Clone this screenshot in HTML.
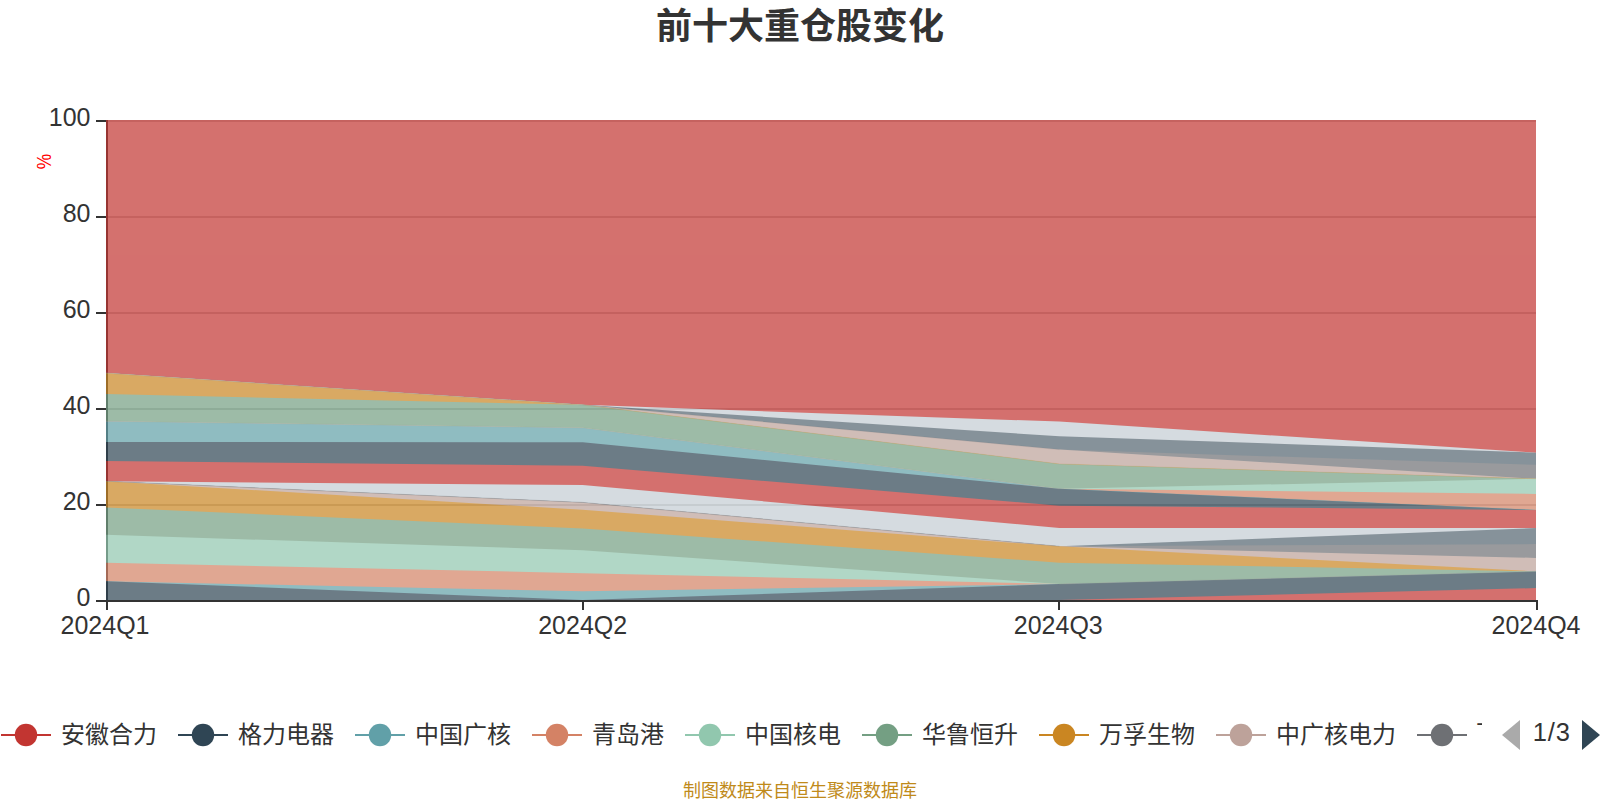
<!DOCTYPE html>
<html lang="zh-CN">
<head>
<meta charset="utf-8">
<title>前十大重仓股变化</title>
<style>
html,body{margin:0;padding:0;background:#fff;}
body{width:1600px;height:800px;overflow:hidden;position:relative;font-family:"Liberation Sans","Noto Sans CJK SC",sans-serif;}
svg{position:absolute;left:0;top:0;display:block;}
svg text{font-family:"Liberation Sans","Noto Sans CJK SC",sans-serif;}
.title{font-size:36px;font-weight:bold;fill:#333;}
.axl text{font-size:25px;fill:#333;}
.leg text{font-size:24px;fill:#333;}
.foot{font-size:18px;fill:#c08a1a;}
</style>
</head>
<body>
<svg width="1600" height="800" viewBox="0 0 1600 800">
<rect width="1600" height="800" fill="#fff"/>
<text class="title" x="800" y="38.5" text-anchor="middle">前十大重仓股变化</text>
<g stroke="#ccc" stroke-width="2"><line x1="107" x2="1536" y1="121" y2="121"/><line x1="107" x2="1536" y1="217" y2="217"/><line x1="107" x2="1536" y1="313" y2="313"/><line x1="107" x2="1536" y1="409" y2="409"/><line x1="107" x2="1536" y1="505" y2="505"/></g>
<g stroke="#333" stroke-width="2">
<line x1="107" x2="107" y1="120" y2="602"/>
<line x1="106" x2="1538" y1="601" y2="601"/>
<line x1="96" x2="107" y1="121" y2="121"/><line x1="96" x2="107" y1="217" y2="217"/><line x1="96" x2="107" y1="313" y2="313"/><line x1="96" x2="107" y1="409" y2="409"/><line x1="96" x2="107" y1="505" y2="505"/><line x1="96" x2="107" y1="601" y2="601"/><line x1="107" x2="107" y1="601" y2="610"/><line x1="583" x2="583" y1="601" y2="610"/><line x1="1059" x2="1059" y1="601" y2="610"/><line x1="1537" x2="1537" y1="601" y2="610"/>
</g>
<g class="axl"><text x="90.5" y="126" text-anchor="end">100</text><text x="90.5" y="222" text-anchor="end">80</text><text x="90.5" y="318" text-anchor="end">60</text><text x="90.5" y="414" text-anchor="end">40</text><text x="90.5" y="510" text-anchor="end">20</text><text x="90.5" y="606" text-anchor="end">0</text><text x="105" y="634" text-anchor="middle">2024Q1</text><text x="582.7" y="634" text-anchor="middle">2024Q2</text><text x="1058.3" y="634" text-anchor="middle">2024Q3</text><text x="1536" y="634" text-anchor="middle">2024Q4</text></g>
<text x="0" y="0" font-size="20" fill="#f00" text-anchor="middle" transform="translate(51.3,161.6) rotate(-90) scale(0.87,1.05)">%</text>
<g opacity="0.7" stroke="none">
<polygon fill="#c23531" points="106,120 582.67,120 1059.33,120 1536,120 1536,600 106,600"/>
<polygon fill="#c4ccd3" points="106,373 582.67,404.85 1059.33,421.6 1536,452.7 1536,600 106,600"/>
<polygon fill="#546570" points="106,373 582.67,404.85 1059.33,436.3 1536,452.7 1536,600 106,600"/>
<polygon fill="#6e7074" points="106,373 582.67,404.85 1059.33,449.6 1536,464.8 1536,600 106,600"/>
<polygon fill="#bda29a" points="106,373 582.67,404.85 1059.33,449.6 1536,478.8 1536,600 106,600"/>
<polygon fill="#ca8622" points="106,373 582.67,404.85 1059.33,463.9 1536,478.8 1536,600 106,600"/>
<polygon fill="#749f83" points="106,394.1 582.67,404.85 1059.33,463.9 1536,478.8 1536,600 106,600"/>
<polygon fill="#91c7ae" points="106,421.2 582.67,427.8 1059.33,488.8 1536,478.8 1536,600 106,600"/>
<polygon fill="#d48265" points="106,421.2 582.67,427.8 1059.33,488.8 1536,493.9 1536,600 106,600"/>
<polygon fill="#61a0a8" points="106,421.2 582.67,427.8 1059.33,488.8 1536,510 1536,600 106,600"/>
<polygon fill="#2f4554" points="106,442 582.67,442.2 1059.33,488.8 1536,510 1536,600 106,600"/>
<polygon fill="#c23531" points="106,461 582.67,465.8 1059.33,505.7 1536,510 1536,600 106,600"/>
<polygon fill="#c4ccd3" points="106,481.2 582.67,485 1059.33,527.9 1536,528.1 1536,600 106,600"/>
<polygon fill="#546570" points="106,481.2 582.67,502.4 1059.33,546.3 1536,528.1 1536,600 106,600"/>
<polygon fill="#6e7074" points="106,481.2 582.67,502.4 1059.33,546.3 1536,544.1 1536,600 106,600"/>
<polygon fill="#bda29a" points="106,481.2 582.67,502.4 1059.33,546.3 1536,557.9 1536,600 106,600"/>
<polygon fill="#ca8622" points="106,481.2 582.67,509.8 1059.33,546.3 1536,571.4 1536,600 106,600"/>
<polygon fill="#749f83" points="106,507.5 582.67,528.5 1059.33,562.7 1536,571.4 1536,600 106,600"/>
<polygon fill="#91c7ae" points="106,534.8 582.67,550.2 1059.33,584 1536,571.4 1536,600 106,600"/>
<polygon fill="#d48265" points="106,562.8 582.67,573.2 1059.33,584 1536,571.4 1536,600 106,600"/>
<polygon fill="#61a0a8" points="106,581.2 582.67,591.3 1059.33,584 1536,571.4 1536,600 106,600"/>
<polygon fill="#2f4554" points="106,581.2 582.67,600 1059.33,584 1536,571.4 1536,600 106,600"/>
<polygon fill="#c23531" points="106,600 582.67,600 1059.33,600 1536,588.1 1536,600 106,600"/>
</g>
<g stroke-width="0.7" opacity="0.2" fill="none"><line x1="1059.33" y1="584" x2="1536" y2="571.4" stroke="#61a0a8"/><line x1="1059.33" y1="584" x2="1536" y2="571.4" stroke="#d48265"/><line x1="1059.33" y1="584" x2="1536" y2="571.4" stroke="#91c7ae"/><line x1="106" y1="481.2" x2="582.67" y2="502.4" stroke="#6e7074"/><line x1="582.67" y1="502.4" x2="1059.33" y2="546.3" stroke="#6e7074"/><line x1="106" y1="481.2" x2="582.67" y2="502.4" stroke="#546570"/><line x1="582.67" y1="502.4" x2="1059.33" y2="546.3" stroke="#546570"/><line x1="1059.33" y1="488.8" x2="1536" y2="510" stroke="#61a0a8"/><line x1="106" y1="421.2" x2="582.67" y2="427.8" stroke="#d48265"/><line x1="582.67" y1="427.8" x2="1059.33" y2="488.8" stroke="#d48265"/><line x1="106" y1="421.2" x2="582.67" y2="427.8" stroke="#91c7ae"/><line x1="582.67" y1="427.8" x2="1059.33" y2="488.8" stroke="#91c7ae"/><line x1="582.67" y1="404.85" x2="1059.33" y2="463.9" stroke="#ca8622"/><line x1="1059.33" y1="463.9" x2="1536" y2="478.8" stroke="#ca8622"/><line x1="106" y1="373" x2="582.67" y2="404.85" stroke="#bda29a"/><line x1="106" y1="373" x2="582.67" y2="404.85" stroke="#6e7074"/><line x1="582.67" y1="404.85" x2="1059.33" y2="449.6" stroke="#6e7074"/><line x1="106" y1="373" x2="582.67" y2="404.85" stroke="#546570"/><line x1="106" y1="373" x2="582.67" y2="404.85" stroke="#c4ccd3"/></g>
<defs><clipPath id="lc"><rect x="0" y="700" width="1482" height="70"/></clipPath></defs>
<g class="leg" clip-path="url(#lc)"><g><line x1="1" x2="51" y1="735" y2="735" stroke="#c23531" stroke-width="2"/><circle cx="26" cy="735" r="11.2" fill="#c23531"/><text x="60.9" y="743">安徽合力</text></g><g><line x1="178" x2="228" y1="735" y2="735" stroke="#2f4554" stroke-width="2"/><circle cx="203" cy="735" r="11.2" fill="#2f4554"/><text x="237.9" y="743">格力电器</text></g><g><line x1="355" x2="405" y1="735" y2="735" stroke="#61a0a8" stroke-width="2"/><circle cx="380" cy="735" r="11.2" fill="#61a0a8"/><text x="414.9" y="743">中国广核</text></g><g><line x1="532" x2="582" y1="735" y2="735" stroke="#d48265" stroke-width="2"/><circle cx="557" cy="735" r="11.2" fill="#d48265"/><text x="591.9" y="743">青岛港</text></g><g><line x1="685" x2="735" y1="735" y2="735" stroke="#91c7ae" stroke-width="2"/><circle cx="710" cy="735" r="11.2" fill="#91c7ae"/><text x="744.9" y="743">中国核电</text></g><g><line x1="862" x2="912" y1="735" y2="735" stroke="#749f83" stroke-width="2"/><circle cx="887" cy="735" r="11.2" fill="#749f83"/><text x="921.9" y="743">华鲁恒升</text></g><g><line x1="1039" x2="1089" y1="735" y2="735" stroke="#ca8622" stroke-width="2"/><circle cx="1064" cy="735" r="11.2" fill="#ca8622"/><text x="1098.9" y="743">万孚生物</text></g><g><line x1="1216" x2="1266" y1="735" y2="735" stroke="#bda29a" stroke-width="2"/><circle cx="1241" cy="735" r="11.2" fill="#bda29a"/><text x="1275.9" y="743">中广核电力</text></g><g><line x1="1417" x2="1467" y1="735" y2="735" stroke="#6e7074" stroke-width="2"/><circle cx="1442" cy="735" r="11.2" fill="#6e7074"/><text x="1476.1" y="742">下</text></g></g>
<polygon points="1502,735 1520,720 1520,750" fill="#aaa"/>
<polygon points="1600,735 1582,720 1582,750" fill="#2f4554"/>
<text x="1551.8" y="741" font-size="25.5" fill="#333" text-anchor="middle" letter-spacing="0.9">1/3</text>
<text class="foot" x="800" y="796.8" text-anchor="middle">制图数据来自恒生聚源数据库</text>
</svg>
</body>
</html>
